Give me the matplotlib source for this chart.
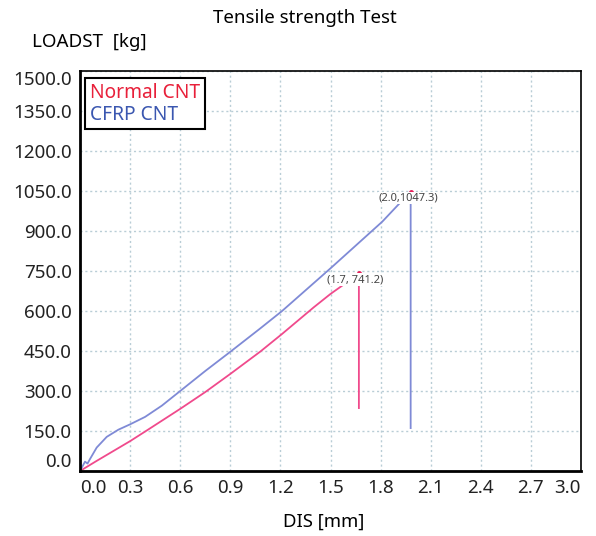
import matplotlib.pyplot as plt

plt.rcParams['font.family'] = ['Noto Sans', 'DejaVu Sans']

# Normal CNT curve (pink)
normal_x = [0.0, 0.1, 0.2, 0.3, 0.39, 0.6, 0.75, 0.9, 1.08, 1.21, 1.4, 1.5, 1.59, 1.67, 1.67]
normal_y = [0.0, 38, 75, 112, 148, 233, 296, 364, 448, 514, 614, 664, 704, 741.2, 236]

# CFRP CNT curve (blue)
cfrp_x = [0.0, 0.03, 0.045, 0.06, 0.1, 0.16, 0.23, 0.3, 0.39, 0.49, 0.6, 0.75, 0.9,
          1.08, 1.21, 1.5, 1.81, 1.92, 1.98, 1.98]
cfrp_y = [0.0, 35, 28, 45, 88, 128, 155, 175, 203, 245, 300, 375, 447,
          535, 600, 760, 935, 1008, 1047.3, 161]

peaks = [(1.67, 741.2, "(1.7, 741.2)", 1.645, 718), (1.98, 1047.3, "(2.0,1047.3)", 1.965, 1023)]

x_ticks = [0.0, 0.3, 0.6, 0.9, 1.2, 1.5, 1.8, 2.1, 2.4, 2.7, 3.0]
y_ticks = [0.0, 150, 300, 450, 600, 750, 900, 1050, 1200, 1350, 1500]

fig = plt.figure(figsize=(5.96, 5.36), dpi=100)
ax = fig.add_axes([80 / 596, 65 / 536, 501 / 596, 400 / 536])

ax.plot(normal_x, normal_y, color='#f04a8c', lw=1.3, zorder=2)
ax.plot(cfrp_x, cfrp_y, color='#7f8ad6', lw=1.3, zorder=2)

for px, py, txt, tx, ty in peaks:
    ax.plot(px, py, 'o', color='#e8205a', ms=2.5, zorder=3)
    ax.text(tx, ty, txt, fontsize=8, color='#444444', ha='center', va='center', zorder=4,
            bbox=dict(facecolor='white', edgecolor='none', pad=0.5))

ax.set_xlim(0, 3.0)
ax.set_ylim(0, 1500)
ax.set_xticks(x_ticks)
ax.set_yticks(y_ticks)
ax.set_xticklabels([f"{v:.1f}" for v in x_ticks], fontsize=13.5, color='#222222')
ax.set_yticklabels([f"{v:.1f}" for v in y_ticks], fontsize=13.5, color='#222222')
ax.tick_params(length=0, pad=6)
xl = ax.get_xticklabels()
xl[0].set_ha('left')
xl[-1].set_ha('right')
yl = ax.get_yticklabels()
yl[0].set_va('bottom')
yl[-1].set_va('top')

ax.grid(True, color='#b9cdd6', linestyle=(0, (1.5, 2)), lw=1.0)
ax.set_axisbelow(True)
for side in ['left', 'bottom']:
    ax.spines[side].set_linewidth(2.0)
for side in ['top', 'right']:
    ax.spines[side].set_linewidth(1.2)

leg = ax.legend(['Normal CNT', 'CFRP CNT'], loc='upper left', bbox_to_anchor=(0.01, 0.983),
                handlelength=0, handletextpad=0, fontsize=13.8, fancybox=False,
                edgecolor='black', framealpha=1, borderpad=0.25, labelspacing=0.1,
                borderaxespad=0)
for h in leg.legend_handles:
    h.set_visible(False)
leg.get_frame().set_linewidth(1.5)
leg.get_texts()[0].set_color('#e8203a')
leg.get_texts()[1].set_color('#3b57b0')

fig.text(305 / 596, 1 - 18 / 536, "Tensile strength Test", fontsize=13.5, ha='center', va='center')
fig.text(32 / 596, 1 - 42 / 536, "LOADST  [kg]", fontsize=13.5, ha='left', va='center')
fig.text(324 / 596, 1 - 522 / 536, "DIS [mm]", fontsize=13.3, ha='center', va='center')

fig.savefig('out.png', dpi=100)
